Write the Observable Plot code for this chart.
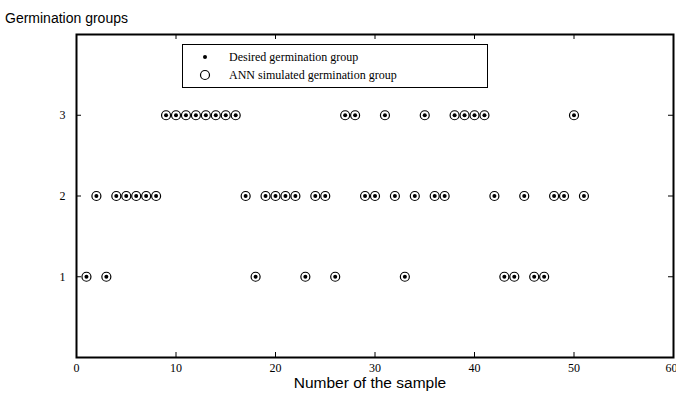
<!DOCTYPE html>
<html>
<head>
<meta charset="utf-8">
<script src="https://cdn.jsdelivr.net/npm/d3@7"></script>
<script src="https://cdn.jsdelivr.net/npm/@observablehq/plot@0.6"></script>
<style>
  html, body { margin: 0; padding: 0; background: #fff; }
  #wrap { position: relative; width: 676px; height: 396px; overflow: hidden; }
  #ytitle { position: absolute; left: 5px; top: 10px; font: 14px "Liberation Sans", Arial, sans-serif; color: #000; }
  #xtitle { position: absolute; left: 0; width: 740px; top: 375px; line-height: 16px; text-align: center; font-family: "Liberation Sans", Arial, sans-serif; font-size: 15.5px; color: #000; }
  #legend { position: absolute; left: 182px; top: 44px; width: 304px; height: 42px; border: 1.5px solid #000; background: #fff; font: 12px "Liberation Serif", "Times New Roman", serif; }
  .row { position: absolute; left: 0; height: 16px; display: flex; align-items: center; }
  .row svg { margin-left: 15px; margin-right: 17px; }
</style>
</head>
<body>
<div id="wrap">
  <div id="chart"></div>
  <div id="ytitle">Germination groups</div>
  <div id="xtitle">Number of the sample</div>
  <div id="legend">
    <div class="row" style="top:4px"><svg width="14" height="14"><circle cx="7" cy="7" r="2" fill="#000"/></svg><span>Desired germination group</span></div>
    <div class="row" style="top:22px"><svg width="14" height="14"><circle cx="7" cy="7" r="4.5" fill="none" stroke="#000" stroke-width="1.2"/></svg><span>ANN simulated germination group</span></div>
  </div>
</div>
<script>
const samples = d3.range(1, 52);
const desiredGroup = [1,2,1,2,2,2,2,2,3,3,3,3,3,3,3,3,2,1,2,2,2,2,1,2,2,1,3,3,2,2,3,2,1,2,3,2,2,3,3,3,3,2,1,1,2,1,1,2,2,3,2];
const simulatedGroup = [1,2,1,2,2,2,2,2,3,3,3,3,3,3,3,3,2,1,2,2,2,2,1,2,2,1,3,3,2,2,3,2,1,2,3,2,2,3,3,3,3,2,1,1,2,1,1,2,2,3,2];
const xTicks = [0, 10, 20, 30, 40, 50, 60];
const yTicks = [1, 2, 3];

const desired = samples.map((s, i) => ({sample: s, group: desiredGroup[i]}));
const simulated = samples.map((s, i) => ({sample: s, group: simulatedGroup[i]}));

const W = 676, H = 396, mt = 34, mb = 39, ml = 76, mr = 3;
const innerH = H - mt - mb, innerW = W - ml - mr;
const tick = 5;
const serif = "Liberation Serif, Times New Roman, serif";
const lastX = xTicks[xTicks.length - 1];

const chart = Plot.plot({
  width: W, height: H,
  marginTop: mt, marginBottom: mb, marginLeft: ml, marginRight: mr,
  style: {background: "#fff", color: "#000"},
  x: {domain: [0, 60], label: null},
  y: {domain: [0, 4], label: null},
  marks: [
    Plot.axisX(xTicks.slice(0, -1), {anchor: "bottom", tickSize: 0, tickPadding: 6, fontSize: 12, fontFamily: serif, label: null}),
    Plot.text([lastX], {x: d => d, frameAnchor: "bottom", dy: 6, lineAnchor: "top", textAnchor: "end", dx: 4, text: d => String(d), fontSize: 12, fontFamily: serif}),
    Plot.axisY(yTicks, {anchor: "left", tickSize: 0, tickPadding: 11, fontSize: 12, fontFamily: serif, tickFormat: "d", label: null}),
    Plot.tickX(xTicks, {x: d => d, insetTop: innerH - tick, stroke: "#000", strokeWidth: 1}),
    Plot.tickX(xTicks, {x: d => d, insetBottom: innerH - tick, stroke: "#000", strokeWidth: 1}),
    Plot.tickY(yTicks, {y: d => d, insetRight: innerW - tick, stroke: "#000", strokeWidth: 1}),
    Plot.tickY(yTicks, {y: d => d, insetLeft: innerW - tick, stroke: "#000", strokeWidth: 1}),
    Plot.dot(simulated, {x: "sample", y: "group", r: 4.5, stroke: "#000", strokeWidth: 1.2, fill: "none"}),
    Plot.dot(desired, {x: "sample", y: "group", r: 2, fill: "#000", stroke: "none"}),
    Plot.frame({stroke: "#000", strokeWidth: 2})
  ]
});
document.getElementById("chart").appendChild(chart);
</script>
</body>
</html>
